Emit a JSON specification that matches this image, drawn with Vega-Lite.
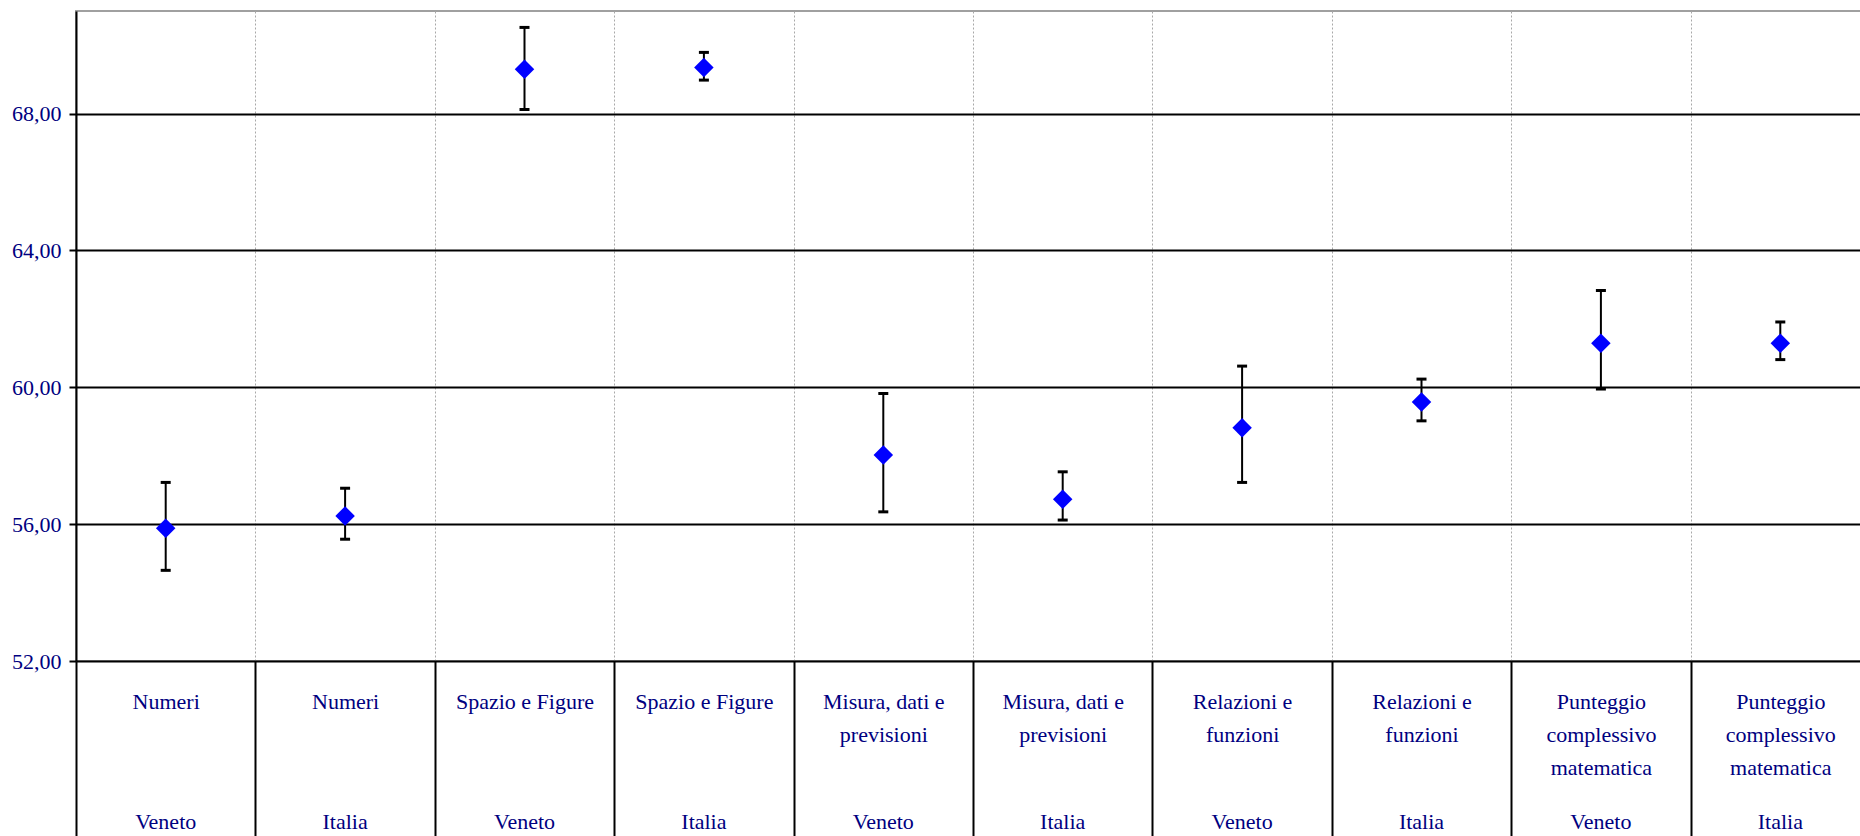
{
  "$schema": "https://vega.github.io/schema/vega-lite/v6.json",
  "width": 1794,
  "height": 650,
  "autosize": {"type": "none"},
  "padding": {"left": 76, "top": 11, "right": 0, "bottom": 175},
  "background": "white",
  "config": {
    "view": {"stroke": "#a0a0a0", "strokeWidth": 2},
    "font": "Liberation Serif"
  },
  "data": {
    "values": [
      {"cat": "Numeri|Veneto", "mean": 55.88, "lo": 54.65, "hi": 57.22},
      {"cat": "Numeri|Italia", "mean": 56.24, "lo": 55.56, "hi": 57.05},
      {"cat": "Spazio e Figure|Veneto", "mean": 69.30, "lo": 68.12, "hi": 70.52},
      {"cat": "Spazio e Figure|Italia", "mean": 69.35, "lo": 68.98, "hi": 69.79},
      {"cat": "Misura, dati e~previsioni|Veneto", "mean": 58.02, "lo": 56.36, "hi": 59.82},
      {"cat": "Misura, dati e~previsioni|Italia", "mean": 56.73, "lo": 56.12, "hi": 57.53},
      {"cat": "Relazioni e~funzioni|Veneto", "mean": 58.82, "lo": 57.22, "hi": 60.62},
      {"cat": "Relazioni e~funzioni|Italia", "mean": 59.57, "lo": 59.02, "hi": 60.24},
      {"cat": "Punteggio~complessivo~matematica|Veneto", "mean": 61.29, "lo": 59.95, "hi": 62.83},
      {"cat": "Punteggio~complessivo~matematica|Italia", "mean": 61.29, "lo": 60.81, "hi": 61.91}
    ]
  },
  "resolve": {"axis": {"x": "independent"}},
  "layer": [
    {
      "mark": {"type": "rule", "color": "black", "strokeWidth": 2},
      "encoding": {
        "x": {
          "field": "cat", "type": "nominal", "sort": null,
          "scale": {"paddingInner": 0, "paddingOuter": 0},
          "axis": {
            "orient": "bottom",
            "title": null,
            "domain": false,
            "tickBand": "extent",
            "ticks": true,
            "tickSize": 180,
            "tickColor": "black",
            "tickWidth": 2,
            "grid": true,
            "gridColor": "#a8a8a8",
            "gridWidth": 1,
            "gridDash": [2, 2],
            "labelAngle": 0,
            "labelExpr": "isValid(datum.value) ? split(split(datum.value, '|')[0], '~') : ''",
            "labelFont": "Liberation Serif",
            "labelFontSize": 22,
            "labelColor": "#000080",
            "labelLineHeight": 33,
            "labelBaseline": "top",
            "labelPadding": -150,
            "labelAlign": "center",
            "labelOverlap": false,
            "labelBound": false
          }
        },
        "y": {
          "field": "lo", "type": "quantitative",
          "scale": {"domain": [52, 71], "nice": false, "zero": false},
          "axis": {
            "title": null,
            "values": [52, 56, 60, 64, 68],
            "labelExpr": "replace(format(datum.value, '.2f'), '.', ',')",
            "labelFont": "Liberation Serif",
            "labelFontSize": 22,
            "labelColor": "#000080",
            "labelPadding": 8,
            "tickSize": 7,
            "tickColor": "black",
            "tickWidth": 2,
            "domainColor": "black",
            "domainWidth": 2,
            "grid": true,
            "gridColor": "black",
            "gridWidth": 2
          }
        },
        "y2": {"field": "hi"}
      }
    },
    {
      "mark": {"type": "tick", "color": "black", "size": 10, "thickness": 3, "orient": "horizontal", "opacity": 1},
      "encoding": {
        "x": {"field": "cat", "type": "nominal", "sort": null, "axis": null},
        "y": {"field": "lo", "type": "quantitative"}
      }
    },
    {
      "mark": {"type": "tick", "color": "black", "size": 10, "thickness": 3, "orient": "horizontal", "opacity": 1},
      "encoding": {
        "x": {"field": "cat", "type": "nominal", "sort": null, "axis": null},
        "y": {"field": "hi", "type": "quantitative"}
      }
    },
    {
      "mark": {"type": "point", "shape": "diamond", "filled": true, "color": "#0000FF", "size": 380, "opacity": 1},
      "encoding": {
        "x": {
          "field": "cat", "type": "nominal", "sort": null,
          "axis": {
            "orient": "bottom",
            "title": null,
            "domain": false,
            "ticks": false,
            "grid": false,
            "labelAngle": 0,
            "labelExpr": "isValid(datum.value) ? split(datum.value, '|')[1] : ''",
            "labelFont": "Liberation Serif",
            "labelFontSize": 22,
            "labelColor": "#000080",
            "labelBaseline": "top",
            "labelPadding": 150,
            "labelAlign": "center",
            "labelOverlap": false,
            "labelBound": false
          }
        },
        "y": {"field": "mean", "type": "quantitative"}
      }
    }
  ]
}
